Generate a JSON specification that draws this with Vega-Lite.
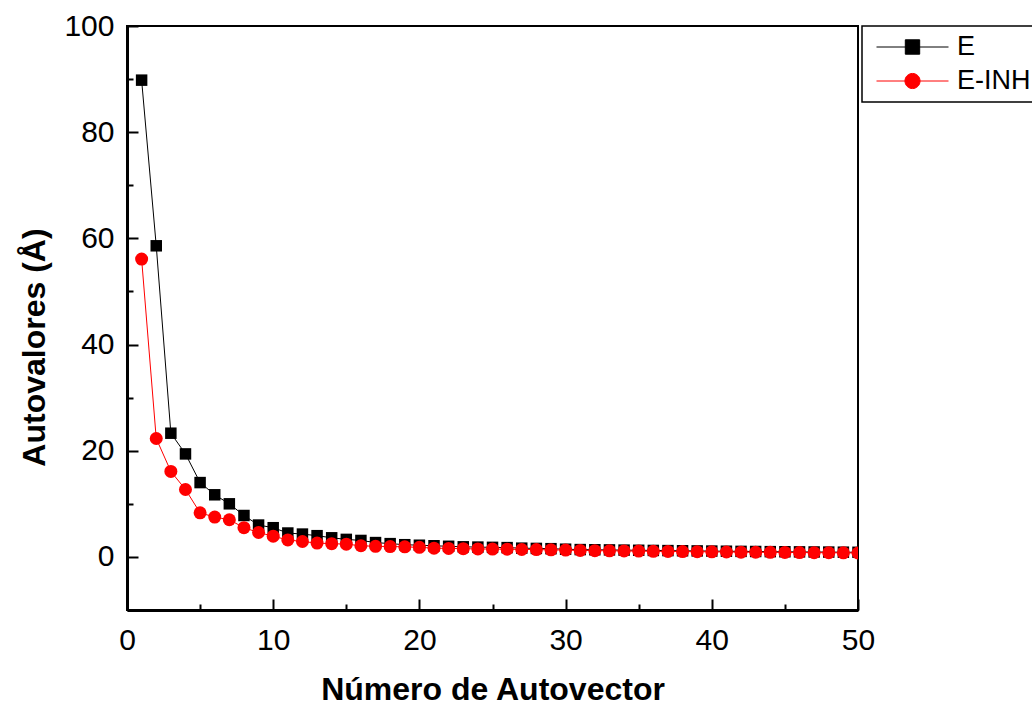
{
  "$schema": "https://vega.github.io/schema/vega-lite/v6.json",
  "width": 731,
  "height": 584,
  "autosize": {"type": "none"},
  "padding": {"left": 127, "top": 26, "right": 174, "bottom": 92},
  "background": "white",
  "config": {
    "font": "Liberation Sans",
    "view": {"stroke": "black", "strokeWidth": 2},
    "axis": {
      "grid": false,
      "domainColor": "black",
      "domainWidth": 3,
      "tickColor": "black",
      "tickWidth": 2,
      "labelColor": "black",
      "labelFontSize": 30,
      "labelFont": "Liberation Sans",
      "titleColor": "black",
      "titleFont": "Liberation Sans",
      "titleFontSize": 32,
      "titleFontWeight": "bold",
      "labelFlush": false,
      "labelOverlap": false
    }
  },
  "data": {
    "values": [
      {"n": 1, "s": "E", "v": 89.8}, {"n": 2, "s": "E", "v": 58.6}, {"n": 3, "s": "E", "v": 23.3}, {"n": 4, "s": "E", "v": 19.4}, {"n": 5, "s": "E", "v": 14.0},
      {"n": 6, "s": "E", "v": 11.7}, {"n": 7, "s": "E", "v": 10.0}, {"n": 8, "s": "E", "v": 7.8}, {"n": 9, "s": "E", "v": 6.0}, {"n": 10, "s": "E", "v": 5.5},
      {"n": 11, "s": "E", "v": 4.5}, {"n": 12, "s": "E", "v": 4.3}, {"n": 13, "s": "E", "v": 4.0}, {"n": 14, "s": "E", "v": 3.6}, {"n": 15, "s": "E", "v": 3.3},
      {"n": 16, "s": "E", "v": 3.1}, {"n": 17, "s": "E", "v": 2.7}, {"n": 18, "s": "E", "v": 2.5}, {"n": 19, "s": "E", "v": 2.3}, {"n": 20, "s": "E", "v": 2.2},
      {"n": 21, "s": "E", "v": 2.1}, {"n": 22, "s": "E", "v": 2.0}, {"n": 23, "s": "E", "v": 1.9}, {"n": 24, "s": "E", "v": 1.85}, {"n": 25, "s": "E", "v": 1.8},
      {"n": 26, "s": "E", "v": 1.75}, {"n": 27, "s": "E", "v": 1.65}, {"n": 28, "s": "E", "v": 1.6}, {"n": 29, "s": "E", "v": 1.55}, {"n": 30, "s": "E", "v": 1.45},
      {"n": 31, "s": "E", "v": 1.38}, {"n": 32, "s": "E", "v": 1.35}, {"n": 33, "s": "E", "v": 1.32}, {"n": 34, "s": "E", "v": 1.28}, {"n": 35, "s": "E", "v": 1.25},
      {"n": 36, "s": "E", "v": 1.22}, {"n": 37, "s": "E", "v": 1.19}, {"n": 38, "s": "E", "v": 1.16}, {"n": 39, "s": "E", "v": 1.13}, {"n": 40, "s": "E", "v": 1.10},
      {"n": 41, "s": "E", "v": 1.07}, {"n": 42, "s": "E", "v": 1.04}, {"n": 43, "s": "E", "v": 1.02}, {"n": 44, "s": "E", "v": 0.99}, {"n": 45, "s": "E", "v": 0.97},
      {"n": 46, "s": "E", "v": 0.95}, {"n": 47, "s": "E", "v": 0.93}, {"n": 48, "s": "E", "v": 0.91}, {"n": 49, "s": "E", "v": 0.89}, {"n": 50, "s": "E", "v": 0.87},
      {"n": 1, "s": "E-INH", "v": 56.1}, {"n": 2, "s": "E-INH", "v": 22.3}, {"n": 3, "s": "E-INH", "v": 16.1}, {"n": 4, "s": "E-INH", "v": 12.7}, {"n": 5, "s": "E-INH", "v": 8.3},
      {"n": 6, "s": "E-INH", "v": 7.5}, {"n": 7, "s": "E-INH", "v": 7.0}, {"n": 8, "s": "E-INH", "v": 5.5}, {"n": 9, "s": "E-INH", "v": 4.6}, {"n": 10, "s": "E-INH", "v": 3.9},
      {"n": 11, "s": "E-INH", "v": 3.2}, {"n": 12, "s": "E-INH", "v": 2.9}, {"n": 13, "s": "E-INH", "v": 2.6}, {"n": 14, "s": "E-INH", "v": 2.5}, {"n": 15, "s": "E-INH", "v": 2.4},
      {"n": 16, "s": "E-INH", "v": 2.1}, {"n": 17, "s": "E-INH", "v": 2.0}, {"n": 18, "s": "E-INH", "v": 1.95}, {"n": 19, "s": "E-INH", "v": 1.9}, {"n": 20, "s": "E-INH", "v": 1.8},
      {"n": 21, "s": "E-INH", "v": 1.65}, {"n": 22, "s": "E-INH", "v": 1.6}, {"n": 23, "s": "E-INH", "v": 1.55}, {"n": 24, "s": "E-INH", "v": 1.5}, {"n": 25, "s": "E-INH", "v": 1.48},
      {"n": 26, "s": "E-INH", "v": 1.45}, {"n": 27, "s": "E-INH", "v": 1.4}, {"n": 28, "s": "E-INH", "v": 1.38}, {"n": 29, "s": "E-INH", "v": 1.33}, {"n": 30, "s": "E-INH", "v": 1.28},
      {"n": 31, "s": "E-INH", "v": 1.22}, {"n": 32, "s": "E-INH", "v": 1.18}, {"n": 33, "s": "E-INH", "v": 1.15}, {"n": 34, "s": "E-INH", "v": 1.12}, {"n": 35, "s": "E-INH", "v": 1.09},
      {"n": 36, "s": "E-INH", "v": 1.06}, {"n": 37, "s": "E-INH", "v": 1.03}, {"n": 38, "s": "E-INH", "v": 1.0}, {"n": 39, "s": "E-INH", "v": 0.98}, {"n": 40, "s": "E-INH", "v": 0.95},
      {"n": 41, "s": "E-INH", "v": 0.93}, {"n": 42, "s": "E-INH", "v": 0.9}, {"n": 43, "s": "E-INH", "v": 0.88}, {"n": 44, "s": "E-INH", "v": 0.86}, {"n": 45, "s": "E-INH", "v": 0.84},
      {"n": 46, "s": "E-INH", "v": 0.82}, {"n": 47, "s": "E-INH", "v": 0.8}, {"n": 48, "s": "E-INH", "v": 0.78}, {"n": 49, "s": "E-INH", "v": 0.76}, {"n": 50, "s": "E-INH", "v": 0.74}
    ]
  },
  "encoding": {
    "color": {
      "field": "s", "type": "nominal",
      "scale": {"domain": ["E", "E-INH"], "range": ["black", "red"]},
      "legend": {
        "orient": "none", "legendX": 735, "legendY": 0, "title": null,
        "strokeColor": "black", "fillColor": "white", "padding": 8,
        "symbolSize": 5184, "symbolOffset": 6, "labelOffset": 8,
        "symbolType": "M-1,0H1M-0.2,-0.2H0.2V0.2H-0.2Z",
        "symbolStrokeWidth": 1,
        "labelFontSize": 27, "labelFont": "Liberation Sans", "labelColor": "black",
        "rowPadding": 7,
        "encode": {
          "legend": {"update": {"strokeWidth": {"value": 1.5}}},
          "labels": {"update": {"y": {"value": 13}}},
          "symbols": {"update": {
            "shape": {"signal": "datum.value === 'E' ? 'M-1,0H1M-0.2,-0.2H0.2V0.2H-0.2Z' : 'M-1,0H1M0.21,0A0.21,0.21 0 1,1 -0.21,0A0.21,0.21 0 1,1 0.21,0Z'"},
            "size": {"value": 5184},
            "y": {"value": 13},
            "strokeWidth": {"value": 1},
            "fill": {"signal": "datum.value === 'E' ? 'black' : 'red'"},
            "stroke": {"signal": "datum.value === 'E' ? 'black' : 'red'"},
            "opacity": {"value": 1},
            "fillOpacity": {"value": 1},
            "strokeOpacity": {"value": 1}
          }}
        }
      }
    }
  },
  "layer": [
    {
      "mark": {"type": "line", "strokeWidth": 1, "clip": true},
      "encoding": {
        "x": {
          "field": "n", "type": "quantitative",
          "scale": {"domain": [0, 50], "nice": false, "zero": false},
          "axis": {"orient": "bottom", "values": [0, 10, 20, 30, 40, 50], "tickSize": -11, "labelPadding": 26,
                   "title": "Número de Autovector", "titleY": 89, "titleBaseline": "alphabetic"}
        },
        "y": {
          "field": "v", "type": "quantitative",
          "scale": {"domain": [-10, 100], "nice": false, "zero": false},
          "axis": {"orient": "left", "values": [0, 20, 40, 60, 80, 100], "tickSize": -11, "labelPadding": 24,
                   "title": "Autovalores (Å)", "titleX": -83, "titleY": 321, "titleAngle": 270, "titleBaseline": "alphabetic", "titleAlign": "center"}
        }
      }
    },
    {
      "transform": [{"filter": "datum.s === 'E'"}],
      "mark": {"type": "point", "filled": true, "opacity": 1, "clip": true, "shape": "square", "size": 132},
      "encoding": {
        "x": {
          "field": "n", "type": "quantitative",
          "axis": {"orient": "bottom", "values": [5, 15, 25, 35, 45], "tickSize": -6, "labels": false, "domain": false, "title": null}
        },
        "y": {
          "field": "v", "type": "quantitative",
          "axis": {"orient": "left", "values": [-10, 10, 30, 50, 70, 90], "tickSize": -6, "labels": false, "domain": false, "title": null}
        }
      }
    },
    {
      "transform": [{"filter": "datum.s === 'E-INH'"}],
      "mark": {"type": "point", "filled": true, "opacity": 1, "clip": true, "shape": "circle", "size": 169},
      "encoding": {
        "x": {"field": "n", "type": "quantitative", "axis": null},
        "y": {"field": "v", "type": "quantitative", "axis": null}
      }
    }
  ],
  "resolve": {"axis": {"x": "independent", "y": "independent"}}
}
